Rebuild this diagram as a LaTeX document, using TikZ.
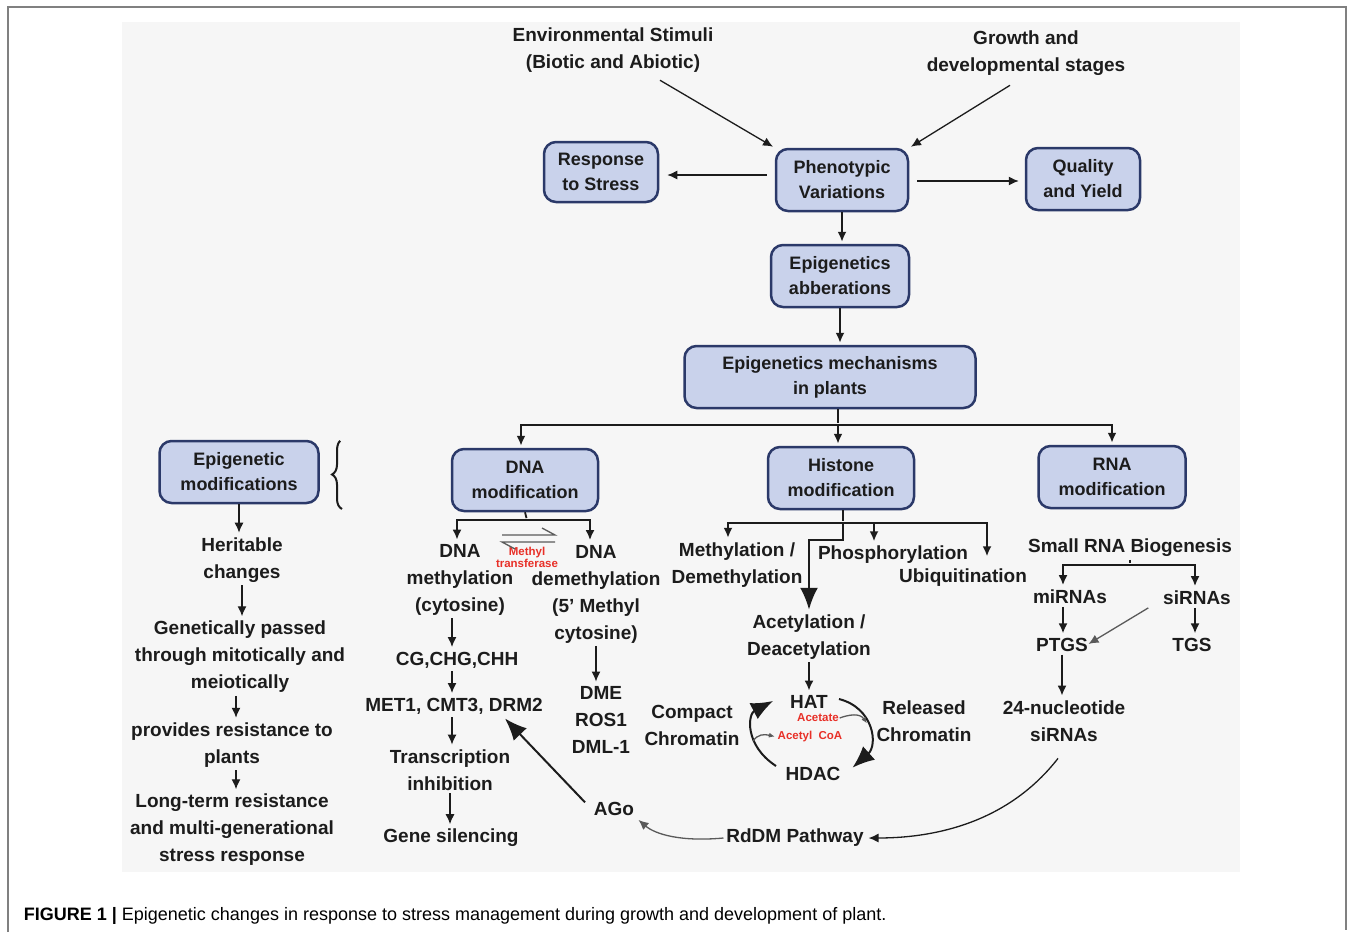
\documentclass[tikz,border=0pt]{standalone}
\usepackage{fontspec}
\setmainfont{Liberation Sans}
\newfontfamily\capfont{Liberation Sans}
\usetikzlibrary{arrows.meta,decorations.pathreplacing}
\definecolor{boxfill}{RGB}{201,210,235}
\definecolor{boxline}{RGB}{43,57,105}
\definecolor{panel}{RGB}{246,246,246}
\definecolor{ink}{RGB}{28,28,28}
\definecolor{redtxt}{RGB}{232,48,40}
\definecolor{greyink}{RGB}{90,90,90}

\begin{document}
\begin{tikzpicture}[
    x=1pt, y=-1pt,
    >={Latex[length=10pt,width=9pt]},
    line width=1.8pt, color=ink,
    every node/.style={text=ink, align=center, inner sep=2pt,
      font=\bfseries\fontsize{19}{27}\selectfont},
    box/.style={draw=boxline, fill=boxfill, line width=2.5pt,
      rounded corners=12pt, minimum height=62pt,
      font=\bfseries\fontsize{18}{25}\selectfont},
    redlbl/.style={text=redtxt, font=\bfseries\fontsize{11.5}{12}\selectfont, inner sep=0pt},
    fine/.style={line width=1.3pt},
    big/.style={-{Latex[length=22pt,width=18pt]}, line width=2.4pt},
    shorten >=2pt
]
  \useasboundingbox (0,0) rectangle (1354,932);
  \fill[white] (0,0) rectangle (1354,932);
  \fill[panel] (122,22) rectangle (1240,872);
  \draw[gray, line width=1.5pt] (8,932) -- (8,7) -- (1346,7) -- (1346,932);

  % nodes
  \node (env)    at (613,50)  {Environmental Stimuli\\(Biotic and Abiotic)};
  \node (growth) at (1026,53) {Growth and\\developmental stages};
  \node[box, minimum width=132pt] (pheno) at (842,180) {Phenotypic\\Variations};
  \node[box, minimum width=114pt, minimum height=60pt] (resp) at (601,172) {Response\\to Stress};
  \node[box, minimum width=114pt] (qual) at (1083,179) {Quality\\and Yield};
  \node[box, minimum width=138pt] (aberr) at (840,276) {Epigenetics\\abberations};
  \node[box, minimum width=291pt] (mech) at (830,377) {Epigenetics mechanisms\\in plants};
  \node[box, minimum width=159pt] (epimod) at (239,472) {Epigenetic\\modifications};
  \node[box, minimum width=146pt] (dna) at (525,480) {DNA\\modification};
  \node[box, minimum width=146pt] (hist) at (841,478) {Histone\\modification};
  \node[box, minimum width=147pt] (rna) at (1112,477) {RNA\\modification};

  % left column
  \node (herit) at (242,560) {Heritable\\changes};
  \node (genet) at (240,657) {Genetically passed\\through mitotically and\\meiotically};
  \node (prov)  at (232,745) {provides resistance to\\plants};
  \node (longt) at (232,830) {Long-term resistance\\and multi-generational\\stress response};

  % DNA branch
  \node (dmeth)   at (460,580) {DNA\\methylation\\(cytosine)};
  \node (ddemeth) at (596,594) {DNA\\demethylation\\(5' Methyl\\cytosine)};
  \node[redlbl] (mtrans) at (527,557) {Methyl\\transferase};
  \node (cg)    at (457,660) {CG,CHG,CHH};
  \node (met)   at (454,706) {MET1, CMT3, DRM2};
  \node (trans) at (450,770) {Transcription\\inhibition};
  \node (gene)  at (451,838) {Gene silencing};
  \node (dme)   at (601,720) {DME\\ROS1\\DML-1};

  % histone branch
  \node (meth)     at (737,565) {Methylation /\\Demethylation};
  \node (phos)     at (893,555) {Phosphorylation};
  \node (ubiq)     at (963,578) {Ubiquitination};
  \node (acet)     at (809,637) {Acetylation /\\Deacetylation};
  \node (hat)      at (809,702) {HAT};
  \node[redlbl] (acetate) at (818,718) {Acetate};
  \node[redlbl] (acoa)    at (810,737) {Acetyl~~CoA};
  \node (hdac)     at (813,774) {HDAC};
  \node (compact)  at (692,725) {Compact\\Chromatin};
  \node (released) at (924,721) {Released\\Chromatin};

  % RNA branch
  \node (srna)  at (1130,548) {Small RNA Biogenesis};
  \node (mirna) at (1070,597) {miRNAs};
  \node (sirna) at (1197,598) {siRNAs};
  \node (ptgs)  at (1062,645) {PTGS};
  \node (tgs)   at (1192,645) {TGS};
  \node (nt24)  at (1064,721) {24-nucleotide\\siRNAs};
  \node (rddm)  at (795,838) {RdDM Pathway};
  \node (ago)   at (614,809) {AGo};

  \node[anchor=west, text=black, font=\capfont\fontsize{18}{20}\selectfont] (caption) at (21,916)
    {\textbf{FIGURE 1 |} Epigenetic changes in response to stress management during growth and development of plant.};

  % edges
  \draw[->, fine] ([shift={(47pt,-5pt)}]env.south) -- (pheno.north west);
  \draw[->, fine] ([shift={(-16pt,-7pt)}]growth.south) -- (pheno.north east);
  \draw[->, fine] ([shift={(-8pt,5pt)}]pheno.west) -- ([shift={(6pt,-3pt)}]resp.east);
  \draw[->, fine] ([shift={(8pt,-1pt)}]pheno.east) -- ([shift={(-4pt,-2pt)}]qual.west);
  \draw[->] (pheno.south) -- (pheno.south |- aberr.north);
  \draw[->] (aberr.south) -- (aberr.south |- mech.north);

  \coordinate (mbar) at (838,425);
  \draw[line width=2.4pt] (mech.south -| mbar) -- (mbar);
  \draw[->, line width=2.4pt] (mbar) -| ([xshift=-4pt]dna.north);
  \draw[->, line width=2.4pt] (mbar) -- (mbar |- hist.north);
  \draw[->, line width=2.4pt] (mbar) -| (rna.north);

  \draw[decorate, decoration={brace, amplitude=10pt}, line width=2pt] (342,509) -- (342,440);

  \draw[->, fine] (epimod.south) -- (epimod.south |- herit.north);
  \draw[->, fine] (herit.south) -- (herit.south |- genet.north);
  \draw[->, fine] ([xshift=-4pt]genet.south) -- ([xshift=-4pt]genet.south |- prov.north);
  \draw[->, fine] ([xshift=4pt]prov.south) -- ([xshift=4pt]prov.south |- longt.north);

  \coordinate (dbar) at (527,520);
  \draw (dna.south) -- (dbar);
  \draw[->] (dbar) -| ([xshift=-3pt]dmeth.north);
  \draw[->] (dbar) -| ([xshift=-6pt]ddemeth.north);
  % equilibrium harpoons
  \draw[greyink, line width=1.3pt, shorten >=0pt] (502,535) -- (555,535) -- (542,528);
  \draw[greyink, line width=1.3pt, shorten >=0pt] (555,542) -- (502,542) -- (515,549);
  \draw[->, fine] ([xshift=-8pt]dmeth.south) -- ([xshift=-8pt]dmeth.south |- cg.north);
  \draw[->, fine] ([xshift=-5pt]cg.south) -- ([xshift=-5pt]cg.south |- met.north);
  \draw[->, fine] ([xshift=-2pt]met.south) -- ([xshift=-2pt]met.south |- trans.north);
  \draw[->, fine] (trans.south) -- (trans.south |- gene.north);
  \draw[->, fine] (ddemeth.south) -- (ddemeth.south |- dme.north);

  \coordinate (hbar) at (843,523);
  \draw (hist.south -| hbar) -- (hbar);
  \draw[->] (hbar) -| ([xshift=-9pt]meth.north);
  \draw[->] (hbar) -| ([xshift=-19pt]phos.north);
  \draw[->] (hbar) -| ([shift={(24pt,8pt)}]ubiq.north);
  \draw[big] (hbar) -- ++(0,17) -| (acet.north);
  \draw[->] (acet.south) -- (acet.south |- hat.north);
  \draw[big, line width=2pt] (776,766) .. controls (744,745) and (748,714) .. (775,700);
  \draw[big, line width=2pt] (839,699) .. controls (874,708) and (878,745) .. (851,769);
  \draw[-{Latex[length=6pt,width=5pt]}, fine, greyink] (acetate.east) .. controls (856,712) and (862,716) .. (868,725);
  \draw[-{Latex[length=6pt,width=5pt]}, fine, greyink] (753,741) .. controls (758,734) and (764,734) .. (acoa.west);

  \coordinate (rbar) at (1130,565);
  \draw (srna.south) -- (rbar);
  \draw[->] (rbar) -| ([xshift=-7pt]mirna.north);
  \draw[->] (rbar) -| ([xshift=-2pt]sirna.north);
  \draw[->] ([xshift=-7pt]mirna.south) -- ([xshift=-7pt]mirna.south |- ptgs.north);
  \draw[->] ([xshift=-2pt]sirna.south) -- ([xshift=-2pt]sirna.south |- tgs.north);
  \draw[->, fine, greyink] ([xshift=-12pt]sirna.south west) -- ([xshift=-4pt]ptgs.east);
  \draw[->] (ptgs.south) -- (ptgs.south |- nt24.north);
  \draw[->, fine] ([shift={(-6pt,-14pt)}]nt24.south) .. controls (1010,820) and (940,838) .. (rddm.east);
  \draw[->, fine, greyink] (rddm.west) .. controls (680,842) and (655,834) .. (ago.south east);
  \draw[big, line width=2pt] ([shift={(-6pt,-3pt)}]ago.north west) -- ([xshift=-42pt]met.south east);
\end{tikzpicture}
\end{document}
